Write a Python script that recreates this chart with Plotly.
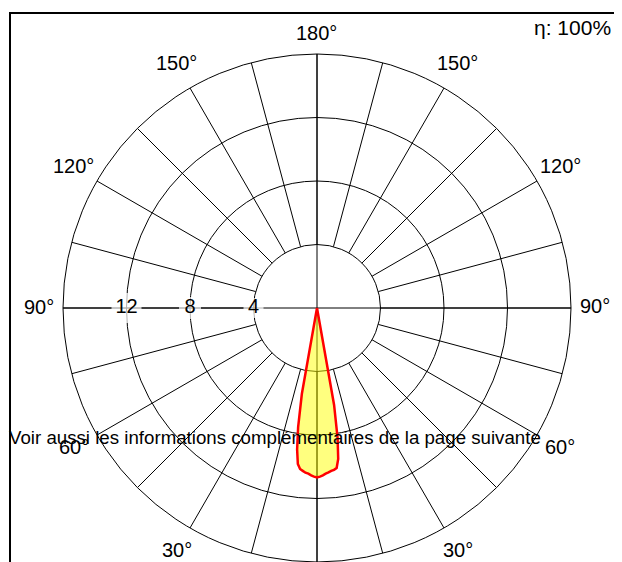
import math
import plotly.graph_objects as go

# ---------------- data ----------------
# luminous intensity curve (angle from nadir in degrees, value on radial scale)
beam_theta = [-11, -10, -9, -8, -7, -6, -5, -4, -3, -2, -1, 0,
              1, 2, 3, 4, 5, 6, 7, 8, 9, 10, 11]
beam_r = [0.0, 6.2, 8.3, 9.6, 10.15, 10.25, 10.3, 10.38, 10.45, 10.55, 10.62, 10.68,
          10.62, 10.55, 10.45, 10.4, 10.3, 10.2, 9.9, 9.0, 7.6, 5.5, 0.0]

ring_values = [4, 8, 12, 16]
ring_labels = ["4", "8", "12"]
spoke_angles = list(range(0, 360, 15))
axis_angles = [0, 90, 180, 270]
angle_tickvals = [30, 60, 90, 120, 150, 180, 210, 240, 270, 300, 330]
angle_ticktext = ["30°", "60°", "90°", "120°", "150°", "180°",
                  "150°", "120°", "90°", "60°", "30°"]
efficiency_text = "η: 100%"
note_text = "Voir aussi les informations complémentaires de la page suivante"

FONT = "Liberation Sans, Arial, sans-serif"
OFF = 8                      # page margin of the html body
W, H = 622 - OFF, 562 - OFF


def px(x):
    return (x - OFF) / W


def py(y):
    return 1 - (y - OFF) / H


CX, CY = 317, 308            # centre of the diagram in page pixels
cx, cy = CX - OFF, CY - OFF
R = H - cy                   # outer ring radius in pixels
RMAX = ring_values[-1]

fig = go.Figure()

# spokes from the first ring to the outer ring
sr, st = [], []
for a in spoke_angles:
    sr += [ring_values[0], RMAX, None]
    st += [a, a, None]
fig.add_trace(go.Scatterpolar(r=sr, theta=st, mode="lines",
                              line=dict(color="black", width=1),
                              hoverinfo="skip", showlegend=False))

# main axes through the centre
ar, at = [], []
for a in axis_angles[:2]:
    ar += [RMAX, 0, RMAX, None]
    at += [a, a, a + 180, None]
fig.add_trace(go.Scatterpolar(r=ar, theta=at, mode="lines",
                              line=dict(color="black", width=1),
                              hoverinfo="skip", showlegend=False))

# beam
fig.add_trace(go.Scatterpolar(r=beam_r, theta=beam_theta, mode="lines",
                              fill="toself", fillcolor="rgba(255,255,0,0.5)",
                              line=dict(color="#ff0000", width=2.5),
                              hoverinfo="skip", showlegend=False))

# radial scale labels with white background
fig.add_trace(go.Scatterpolar(r=ring_values[:3], theta=[90] * 3,
                              mode="markers+text", text=ring_labels,
                              textposition="middle center",
                              textfont=dict(family=FONT, size=20, color="black"),
                              marker=dict(symbol="square", color="white",
                                          size=[20, 22, 30], line=dict(width=0)),
                              hoverinfo="skip", showlegend=False))

# angle labels just outside the outer ring (angles clockwise from nadir)
annotations = []
for a, t in zip(angle_tickvals, angle_ticktext):
    if a == 180:
        d = 273
    elif a % 90 == 0:
        d = 278
    else:
        d = 281
    xa = CX - d * math.sin(math.radians(a))
    ya = CY + d * math.cos(math.radians(a)) - 1.5
    annotations.append(dict(text=t, xref="paper", yref="paper",
                            x=px(xa), y=py(ya), xanchor="center", yanchor="middle",
                            showarrow=False,
                            font=dict(family=FONT, size=20, color="black")))

annotations += [
    dict(text=efficiency_text, xref="paper", yref="paper",
         x=px(613), y=py(27), xanchor="right", yanchor="middle",
         showarrow=False, font=dict(family=FONT, size=21, color="black")),
    dict(text=note_text, xref="paper", yref="paper",
         x=px(7), y=py(437), xanchor="left", yanchor="middle",
         showarrow=False, font=dict(family=FONT, size=18.7, color="black")),
]

fig.update_layout(
    width=W, height=H,
    margin=dict(l=0, r=0, t=0, b=0),
    paper_bgcolor="white",
    font=dict(family=FONT, size=20, color="black"),
    polar=dict(
        domain=dict(x=[(cx - 300) / W, (cx + 300) / W], y=[0, 2 * R / H]),
        bgcolor="white",
        radialaxis=dict(range=[0, RMAX], tickvals=ring_values,
                        showticklabels=False, ticks="", showline=False,
                        gridcolor="black", gridwidth=1),
        angularaxis=dict(rotation=-90, direction="clockwise",
                         tickvals=angle_tickvals, showticklabels=False,
                         ticks="", showgrid=False, showline=True,
                         linecolor="black", linewidth=1),
    ),
    annotations=annotations,
    shapes=[
        dict(type="line", xref="paper", yref="paper", x0=px(9), x1=px(621),
             y0=py(13), y1=py(13), line=dict(color="black", width=2)),
        dict(type="line", xref="paper", yref="paper", x0=px(10), x1=px(10),
             y0=py(13), y1=0, line=dict(color="black", width=2)),
        dict(type="line", xref="paper", yref="paper", x0=px(620.5), x1=px(620.5),
             y0=py(13), y1=0, line=dict(color="black", width=2)),
    ],
)

fig.write_html("out.html")
